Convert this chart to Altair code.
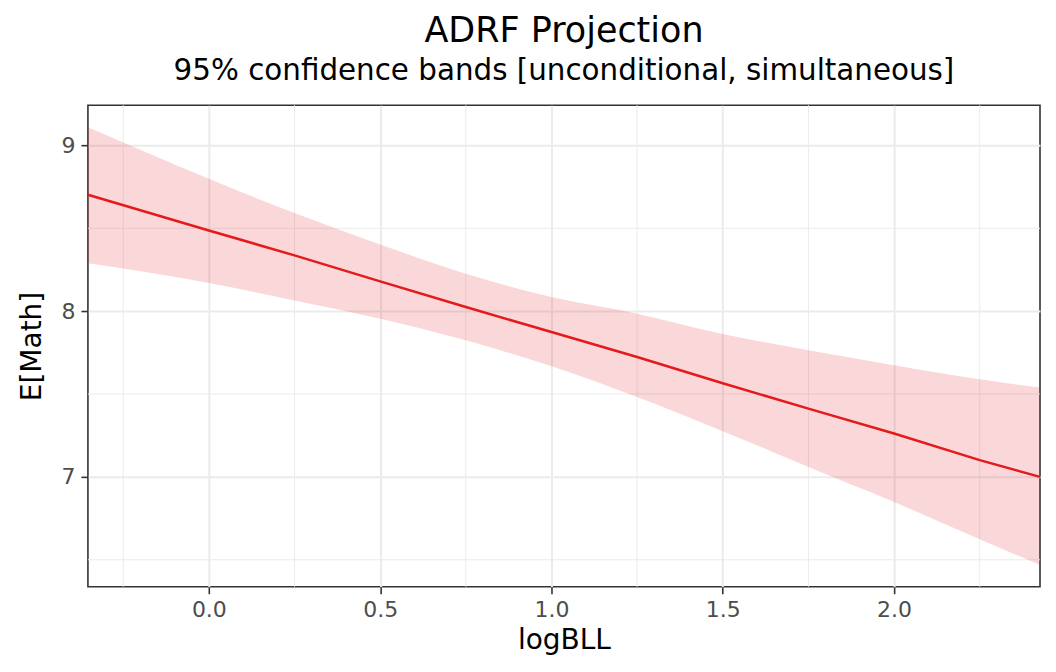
import altair as alt
import pandas as pd

# Data
log_bll = [-0.353, 0.0, 0.25, 0.5, 0.75, 1.0, 1.25, 1.5, 1.75, 2.0, 2.25, 2.426]
estimate = [8.703, 8.487, 8.337, 8.180, 8.025, 7.874, 7.724, 7.565, 7.412, 7.262, 7.101, 7.000]
upper = [9.110, 8.799, 8.592, 8.403, 8.226, 8.085, 7.985, 7.862, 7.764, 7.674, 7.589, 7.539]
lower = [8.289, 8.170, 8.065, 7.955, 7.824, 7.667, 7.482, 7.276, 7.060, 6.849, 6.623, 6.468]

x_major = [0.0, 0.5, 1.0, 1.5, 2.0]
x_minor = [-0.25, 0.25, 0.75, 1.25, 1.75, 2.25]
y_major = [7, 8, 9]
y_minor = [6.5, 7.5, 8.5]

x_domain = [-0.353, 2.426]
y_domain = [6.337, 9.243]

df = pd.DataFrame({"logBLL": log_bll, "est": estimate, "upper": upper, "lower": lower})
df_xminor = pd.DataFrame({"x": x_minor})
df_yminor = pd.DataFrame({"y": y_minor})

FONT = "DejaVu Sans"
GRID = "#EBEBEB"

xscale = alt.Scale(domain=x_domain, nice=False, zero=False)
yscale = alt.Scale(domain=y_domain, nice=False, zero=False)

x_axis = alt.Axis(
    title="logBLL", values=x_major, format=".1f", grid=True, gridColor=GRID, gridWidth=2,
    domain=False, ticks=True, tickColor="#333333", tickWidth=1.6, tickSize=7,
    labelColor="#4D4D4D", labelFontSize=22, labelFont=FONT, labelPadding=6,
    titleFont=FONT, titleFontSize=28, titleFontWeight="normal", titleColor="#000000",
    titlePadding=6,
)
y_axis = alt.Axis(
    title="E[Math]", values=y_major, format="d", grid=True, gridColor=GRID, gridWidth=2,
    domain=False, ticks=True, tickColor="#333333", tickWidth=1.6, tickSize=7,
    labelColor="#4D4D4D", labelFontSize=22, labelFont=FONT, labelPadding=6,
    titleFont=FONT, titleFontSize=28, titleFontWeight="normal", titleColor="#000000",
    titlePadding=14,
)

minor_x = alt.Chart(df_xminor).mark_rule(color=GRID, strokeWidth=1).encode(
    x=alt.X("x:Q", scale=xscale, axis=x_axis)
)
minor_y = alt.Chart(df_yminor).mark_rule(color=GRID, strokeWidth=1).encode(
    y=alt.Y("y:Q", scale=yscale, axis=y_axis)
)

band = alt.Chart(df).mark_area(color="#E41A1C", opacity=0.17, interpolate="monotone").encode(
    x=alt.X("logBLL:Q", scale=xscale, axis=x_axis),
    y=alt.Y("lower:Q", scale=yscale, axis=y_axis),
    y2="upper:Q",
)

line = alt.Chart(df).mark_line(color="#E41A1C", strokeWidth=2.5).encode(
    x=alt.X("logBLL:Q", scale=xscale, axis=x_axis),
    y=alt.Y("est:Q", scale=yscale, axis=y_axis),
)

chart = alt.layer(minor_x, minor_y, band, line).properties(
    width=953,
    height=482,
    background="white",
    autosize=alt.AutoSizeParams(type="none"),
    padding={"left": 80, "top": 97, "right": 8, "bottom": 76},
    title=alt.TitleParams(
        text="ADRF Projection",
        subtitle="95% confidence bands [unconditional, simultaneous]",
        anchor="middle",
        frame="group",
        font=FONT,
        fontSize=35,
        fontWeight="normal",
        color="#000000",
        subtitleFont=FONT,
        subtitleFontSize=29.4,
        subtitleColor="#000000",
        subtitlePadding=8,
        offset=19,
    ),
).configure_view(
    stroke="#333333", strokeWidth=1.6, fill="white"
)

chart.save("out.html", embed_options={"renderer": "svg", "actions": False})
